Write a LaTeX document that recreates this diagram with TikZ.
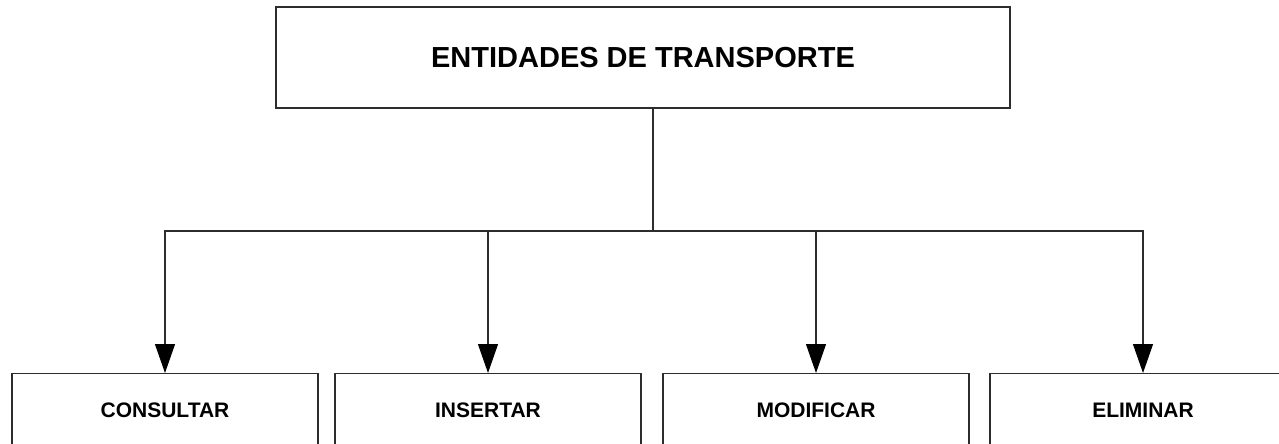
\documentclass[tikz,border=0pt]{standalone}
\usepackage{fontspec}
\setmainfont{Liberation Sans}
\usetikzlibrary{arrows.meta}
\definecolor{myline}{RGB}{45,45,45}

\begin{document}
\begin{tikzpicture}[x=1pt, y=-1pt,
 titlebox/.style={draw=myline, line width=1.2pt, minimum width=734pt, minimum height=101pt, font=\fontsize{29}{34}\selectfont\bfseries},
 opbox/.style={draw=myline, line width=1.2pt, anchor=north, minimum width=306pt, inner ysep=29pt, text height=15pt, text depth=56pt, font=\fontsize{21}{25}\selectfont\bfseries},
 link/.style={draw=myline, line width=1.2pt},
 arrow/.style={link, -{Triangle[width=20pt, length=29pt, color=black]}}
]
\useasboundingbox (0,0) rectangle (1279,444);

 % title
 \node[titlebox] (title) at (643,57.5) {ENTIDADES DE TRANSPORTE};

 % operations
 \node[opbox] (consultar) at (165,373) {CONSULTAR};
 \node[opbox] (insertar) at (488,373) {INSERTAR};
 \node[opbox] (modificar) at (816,373) {MODIFICAR};
 \node[opbox] (eliminar) at (1143,373) {ELIMINAR};

 % connectors
 \coordinate (hub) at (653,231);
 \draw[link] (title.south -| hub) -- (hub);
 \draw[arrow] (hub) -| (consultar.north);
 \draw[arrow] (hub) -| (insertar.north);
 \draw[arrow] (hub) -| (modificar.north);
 \draw[arrow] (hub) -| (eliminar.north);
\end{tikzpicture}
\end{document}
